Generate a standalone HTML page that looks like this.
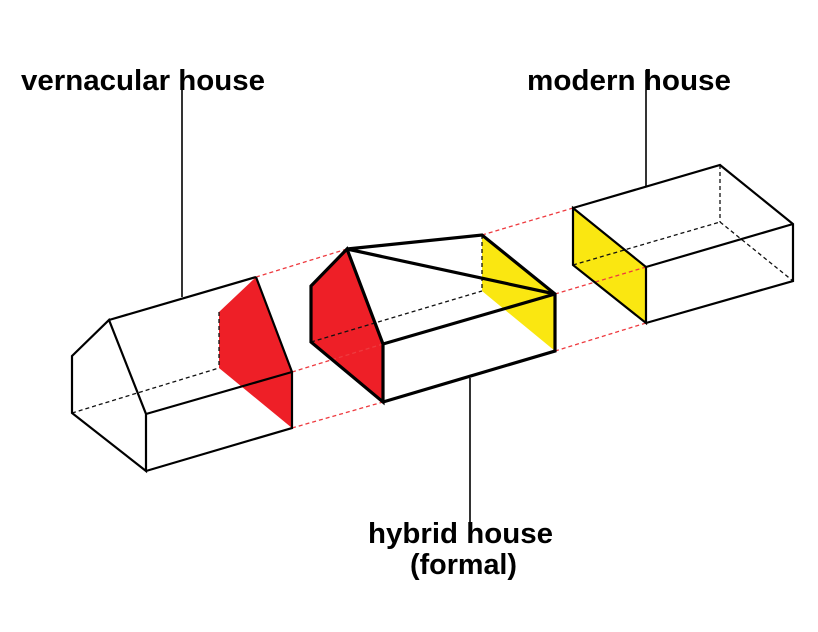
<!DOCTYPE html>
<html><head><meta charset="utf-8"><style>
html,body{margin:0;padding:0;background:#fff;}
svg{display:block;}
text{font-family:"Liberation Sans",Arial,sans-serif;font-weight:bold;fill:#000;}
</style></head><body>
<svg width="818" height="632" viewBox="0 0 818 632" xmlns="http://www.w3.org/2000/svg">
<rect width="818" height="632" fill="#fff"/>
<!-- leader lines -->
<g stroke="#000" stroke-width="1.6" fill="none">
<line x1="182" y1="70" x2="182" y2="297"/>
<line x1="646" y1="70" x2="646" y2="187"/>
<line x1="470" y1="378" x2="470" y2="525"/>
</g>
<!-- fills -->
<polygon points="219,312 256,277 292,372 292,428 219,368" fill="#ee1f27"/>
<polygon points="311,286 347,249 383,344 383,402 311,342" fill="#ee1f27"/>
<polygon points="482,235 555,294 555,351 482,291" fill="#fae711"/>
<polygon points="573,208 646,267 646,323 573,265" fill="#fae711"/>
<!-- red dashed connectors -->
<g stroke="#ee3a3f" stroke-width="1.3" stroke-dasharray="4,3" fill="none">
<line x1="256" y1="277" x2="347" y2="249"/>
<line x1="482" y1="235" x2="573" y2="208"/>
<line x1="292" y1="372" x2="383" y2="344"/>
<line x1="555" y1="294" x2="646" y2="267"/>
<line x1="292" y1="428" x2="383" y2="402"/>
<line x1="555" y1="351" x2="646" y2="323"/>
</g>
<!-- black dashed hidden edges -->
<g stroke="#111" stroke-width="1.3" stroke-dasharray="4,3" fill="none">
<line x1="72" y1="413" x2="219" y2="368"/>
<line x1="219" y1="312" x2="219" y2="368"/>
<line x1="311" y1="342" x2="482" y2="291"/>
<line x1="482" y1="235" x2="482" y2="291"/>
<line x1="573" y1="265" x2="720" y2="222"/>
<line x1="720" y1="165" x2="720" y2="222"/>
<line x1="720" y1="222" x2="793" y2="281"/>
</g>
<!-- vernacular -->
<g stroke="#000" stroke-width="2.2" fill="none" stroke-linejoin="miter">
<polygon points="72,356 109,320 146,414 146,471 72,413"/>
<line x1="109" y1="320" x2="256" y2="277"/>
<polyline points="256,277 292,372 292,428 146,471"/>
<line x1="146" y1="414" x2="292" y2="372"/>
</g>
<!-- hybrid -->
<g stroke="#000" stroke-width="3.2" fill="none" stroke-linejoin="miter">
<polygon points="311,286 347,249 383,344 383,402 311,342"/>
<polyline points="347,249 482,235 555,294 555,351 383,402"/>
<line x1="347" y1="249" x2="555" y2="294"/>
<line x1="383" y1="344" x2="555" y2="294"/>
</g>
<!-- modern -->
<g stroke="#000" stroke-width="2.2" fill="none" stroke-linejoin="miter">
<polygon points="573,208 646,267 646,323 573,265"/>
<polyline points="573,208 720,165 793,224 793,281 646,323"/>
<line x1="646" y1="267" x2="793" y2="224"/>
</g>
<!-- labels -->
<text x="21" y="90" font-size="29" textLength="244" lengthAdjust="spacingAndGlyphs">vernacular house</text>
<text x="527" y="90" font-size="29" textLength="204" lengthAdjust="spacingAndGlyphs">modern house</text>
<text x="368" y="543" font-size="29" textLength="185" lengthAdjust="spacingAndGlyphs">hybrid house</text>
<text x="410" y="574" font-size="29" textLength="107" lengthAdjust="spacingAndGlyphs">(formal)</text>
</svg>
</body></html>
